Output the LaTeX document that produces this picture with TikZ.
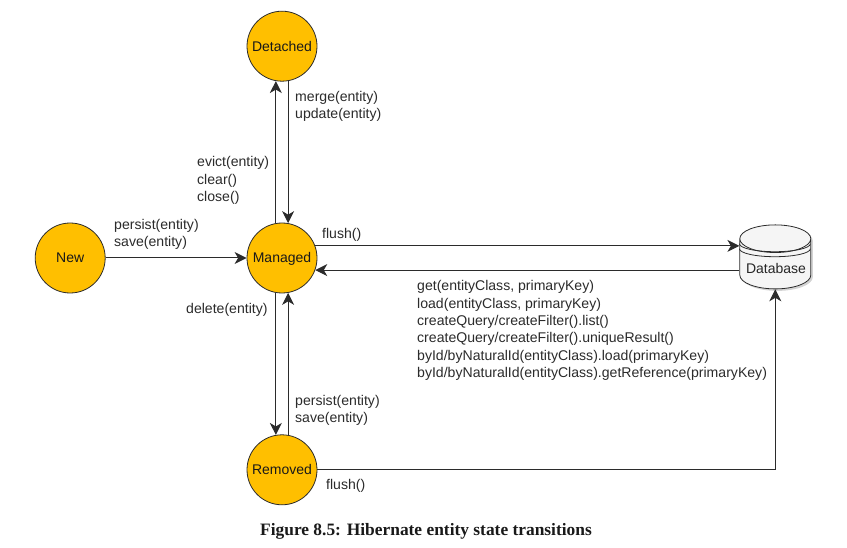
\documentclass[tikz,border=0pt]{standalone}
\usepackage{fontspec}
\setmainfont{Liberation Sans}
\newfontfamily\captionfont{Liberation Serif}
\definecolor{stateamber}{HTML}{FFBF00}
\definecolor{inkgray}{HTML}{2B2B2B}
\usetikzlibrary{arrows.meta,positioning,shapes.geometric,shadows}

\begin{document}
\begin{tikzpicture}[
  x=1pt,y=1pt,
  node distance=141pt and 141pt,
  state/.style={draw=inkgray,circle,thick,fill=stateamber,minimum size=70pt,inner sep=0pt,text height=12pt,text depth=2pt,text=black!90,font=\fontsize{14}{17}\selectfont},
  store/.style={draw=inkgray,thick,cylinder,shape border rotate=90,aspect=0.45,minimum width=71pt,minimum height=64pt,inner sep=0pt,text height=18pt,text depth=0pt,fill=black!4,text=black!85,font=\fontsize{14}{17}\selectfont,drop shadow={opacity=0.35,shadow xshift=2pt,shadow yshift=-2pt}},
  note/.style={anchor=west,align=left,inner sep=0pt,text=inkgray,font=\fontsize{14.08}{17.4}\selectfont},
  arrow/.style={-{Stealth[length=12pt,width=12pt,inset=3.5pt]},draw=inkgray,line width=1pt}
]
\useasboundingbox (0,0) rectangle (847,-548);
\node[state] (managed) at (282,-258) {Managed};
\node[state,left=of managed] (new) {New};
\node[state,above=of managed] (detached) {Detached};
\node[state,below=of managed] (removed) {Removed};
\node[store,right=422pt of managed,yshift=-6pt] (database) {\hspace{1.5pt}Database};
\draw[inkgray,thick] ([yshift=-5pt]database.before top) arc[start angle=180,end angle=360,x radius=35.5pt,y radius=8pt];
\draw[inkgray,thick] ([yshift=-10pt]database.before top) arc[start angle=180,end angle=360,x radius=35.5pt,y radius=8pt];
% connectors
\draw[arrow] (new) -- (managed);
\draw[arrow] (managed.100) -- (detached.260);
\draw[arrow] (detached.280) -- (managed.80);
\draw[arrow] (managed.260) -- (removed.100);
\draw[arrow] (removed.80) -- (managed.280);
\draw[arrow] (managed.20) -- (managed.20 -| database.west);
\draw[arrow] (database.west |- managed.340) -- (managed.340);
\draw[arrow] (removed.east) -| (database.south);
% labels
\node[note] (merge) at (295,-106.5) {merge(entity)\\update(entity)};
\node[note] (evict) at (197,-180.5) {evict(entity)\\clear()\\close()};
\node[note] (persistnew) at (114,-234.5) {persist(entity)\\save(entity)};
\node[note] (flushdb) at (322,-234.5) {flush()};
\node[note] (delete) at (186,-310) {delete(entity)};
\node[note] (load) at (417,-330.5) {get(entityClass, primaryKey)\\load(entityClass, primaryKey)\\createQuery/createFilter().list()\\createQuery/createFilter().uniqueResult()\\byId/byNaturalId(entityClass).load(primaryKey)\\byId/byNaturalId(entityClass).getReference(primaryKey)};
\node[note] (persistold) at (295,-410.5) {persist(entity)\\save(entity)};
\node[note] (flushrm) at (326,-486) {flush()};
\node[font=\captionfont\bfseries\fontsize{17.4}{20}\selectfont,text=black!90] (caption) at (426,-531) {Figure 8.5: Hibernate entity state transitions};
\end{tikzpicture}
\end{document}
